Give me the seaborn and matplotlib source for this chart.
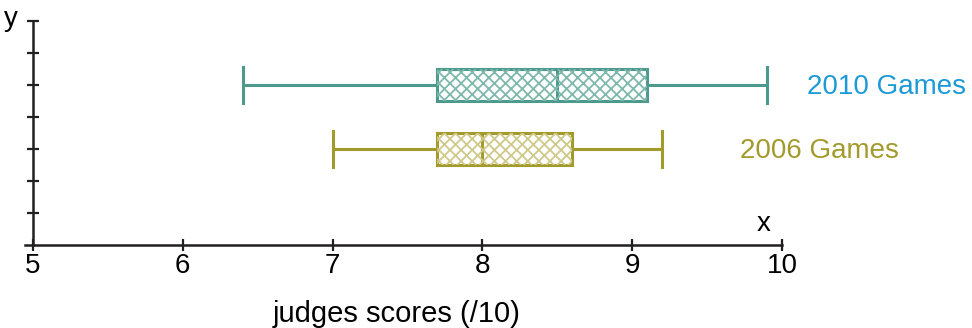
import seaborn as sns
import matplotlib.pyplot as plt
import matplotlib.patches as mpatches
import pandas as pd

# five-number summaries: min, Q1, median, Q3, max
scores_2010 = [6.4, 7.7, 8.5, 9.1, 9.9]
scores_2006 = [7.0, 7.7, 8.0, 8.6, 9.2]
games = ["2010 Games", "2006 Games"]
levels = [5, 3]
label_x = [10.17, 9.72]
edge_colors = ["#4c9a8b", "#a39a2c"]
hatch_colors = ["#7fb8ac", "#cfc98a"]
label_colors = ["#1b9ad8", "#a39a2c"]
xticks = [5, 6, 7, 8, 9, 10]

plt.rcParams["font.family"] = ["Liberation Sans", "DejaVu Sans"]
plt.rcParams["hatch.linewidth"] = 1.3

fig = plt.figure(figsize=(9.72, 3.28), dpi=100)
ax = fig.add_axes([0.0262, 0.253, 0.7783, 0.683])

for scores, level, ec, hc in zip([scores_2010, scores_2006], levels, edge_colors, hatch_colors):
    df = pd.DataFrame({"score": scores, "level": level})
    sns.boxplot(data=df, x="score", y="level", orient="y", native_scale=True,
                whis=(0, 100), width=1.0, color="white", linecolor=ec,
                linewidth=2.2, showfliers=False, capwidths=1.1, ax=ax)
    box = ax.patches[-1]
    hatch = mpatches.PathPatch(box.get_path(), transform=box.get_transform(),
                               facecolor="none", edgecolor=hc, lw=0,
                               hatch="xxx", zorder=box.get_zorder() + 0.1)
    ax.add_patch(hatch)

for name, lx, level, c in zip(games, label_x, levels, label_colors):
    ax.text(lx, level - 0.05, name, color=c, fontsize=20, va="center",
            ha="left", clip_on=False)

ax.set_xlim(4.95, 10)
ax.set_ylim(0, 7)
ax.spines["left"].set_position(("data", 5))
ax.spines["right"].set_visible(False)
ax.spines["top"].set_visible(False)
for s in ["left", "bottom"]:
    ax.spines[s].set_linewidth(1.8)
    ax.spines[s].set_color("#231f20")

ax.set_xticks(xticks)
ax.set_xticklabels([str(t) for t in xticks])
ax.set_yticks(range(1, 8))
ax.set_yticklabels([])
ax.tick_params(axis="both", direction="inout", length=9, width=1.6, color="#231f20")
ax.tick_params(axis="x", labelsize=20, pad=1)
ax.set_xlabel("judges scores (/10)", fontsize=21)
ax.xaxis.set_label_coords(0.49, -0.245)
ax.set_ylabel("")
ax.text(9.88, 0.25, "x", fontsize=20, ha="center", va="bottom")
ax.text(4.85, 7.05, "y", fontsize=20, ha="center", va="center", clip_on=False)

fig.savefig("out.png", dpi=100)
